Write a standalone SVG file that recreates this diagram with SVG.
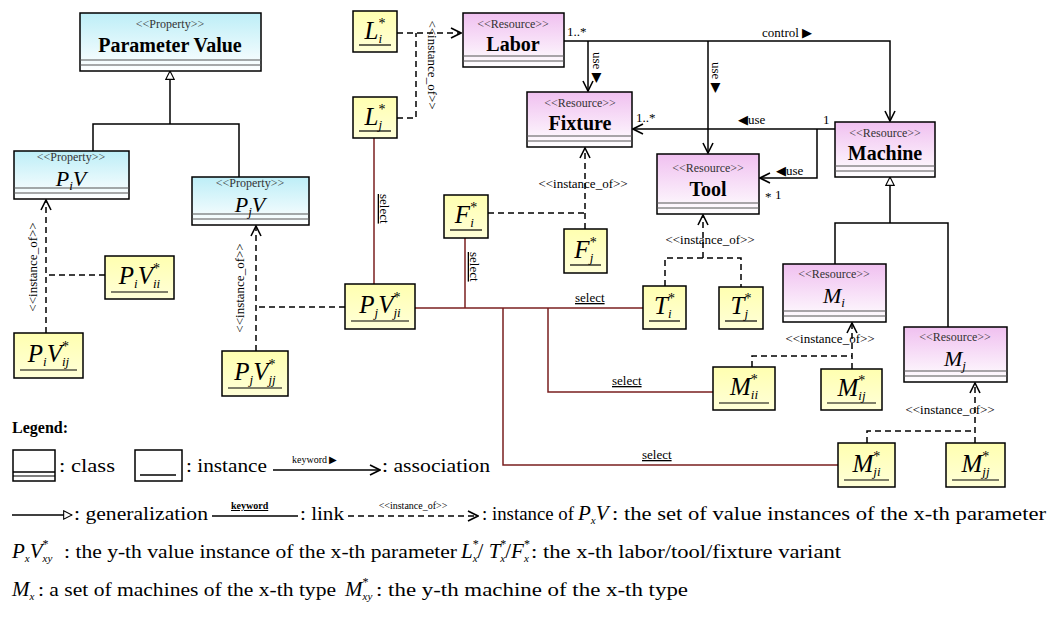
<svg xmlns="http://www.w3.org/2000/svg" width="1053" height="620" viewBox="0 0 1053 620" font-family="'Liberation Serif', 'Times New Roman', serif">
<defs>
<linearGradient id="gProp" x1="0" y1="0" x2="0" y2="1"><stop offset="0" stop-color="#bdeef7"/><stop offset="1" stop-color="#ffffff"/></linearGradient>
<linearGradient id="gRes" x1="0" y1="0" x2="0" y2="1"><stop offset="0" stop-color="#f0c0f0"/><stop offset="1" stop-color="#ffffff"/></linearGradient>
<linearGradient id="gInst" x1="0" y1="0" x2="0" y2="1"><stop offset="0" stop-color="#ffffb0"/><stop offset="1" stop-color="#ffffd8"/></linearGradient>
<marker id="open" viewBox="0 0 12 12" refX="11" refY="6" markerWidth="12" markerHeight="12" markerUnits="userSpaceOnUse" orient="auto"><path d="M1,1 L11,6 L1,11" fill="none" stroke="#000" stroke-width="1.6"/></marker>
<marker id="tri" viewBox="0 0 12 12" refX="11" refY="6" markerWidth="10" markerHeight="10" markerUnits="userSpaceOnUse" orient="auto"><path d="M1,1 L11,6 L1,11 Z" fill="#fff" stroke="#000" stroke-width="1.3"/></marker>
</defs>
<style>
.t,.st,.nm,.it,.itc,.lbl,.io,.lg,.lgi,.sm{font-family:'Liberation Serif','Times New Roman',serif;fill:#000}
.box{stroke:#000;stroke-width:1.5}
.prop{fill:url(#gProp)}
.res{fill:url(#gRes)}
.inst{fill:url(#gInst);stroke:#000;stroke-width:1.5}
.cl{stroke:#555;stroke-width:1.2}
.ul{stroke:#000;stroke-width:1.2}
.st{font-size:12px;fill:#333;text-anchor:middle}
.nm{font-size:20px;font-weight:bold;text-anchor:middle}
.it{font-size:25px;font-style:italic;text-anchor:middle}
.itc{font-size:22px;font-style:italic;text-anchor:middle}
.sub{font-size:13px}
.sup{font-size:14px;font-style:normal}
.lgi .sub{font-size:11px}
.lgi .sup{font-size:12px}
.assoc{fill:none;stroke:#000;stroke-width:1.5}
.dash{fill:none;stroke:#000;stroke-width:1.5;stroke-dasharray:6 4}
.sel{fill:none;stroke:#7a1f1f;stroke-width:1.5}
.lbl{font-size:13px}
.io{font-size:13px;text-anchor:middle}
.u{text-decoration:underline}
.lg{font-size:18px}
.lgi{font-size:21px;font-style:italic}
.sm{font-size:10px}
</style>

<g id="connectors">
<path class="assoc" d="M93,151 V124 H239 V177"/>
<path class="assoc" d="M170,124 V71" marker-end="url(#tri)"/>
<path class="assoc" d="M835,264 V223 H948 V327"/>
<path class="assoc" d="M890,223 V177" marker-end="url(#tri)"/>
<path class="assoc" d="M564,41 H890 V121" marker-end="url(#open)"/>
<path class="assoc" d="M588,41 V91" marker-end="url(#open)"/>
<path class="assoc" d="M708,41 V153" marker-end="url(#open)"/>
<path class="assoc" d="M835,129 H633" marker-end="url(#open)"/>
<path class="assoc" d="M817,129 V178 H760" marker-end="url(#open)"/>
<path class="dash" d="M397,33 H461" marker-end="url(#open)"/>
<path class="dash" d="M397,118 H416 V33"/>
<path class="dash" d="M46,333 V200" marker-end="url(#open)"/>
<path class="dash" d="M105,275 H46"/>
<path class="dash" d="M256,351 V226" marker-end="url(#open)"/>
<path class="dash" d="M345,307 H256"/>
<path class="dash" d="M585,229 V148" marker-end="url(#open)"/>
<path class="dash" d="M488,213 H585"/>
<path class="dash" d="M703,258 V215" marker-end="url(#open)"/>
<path class="dash" d="M665,286 V258 H741 V287"/>
<path class="dash" d="M852,369 V323" marker-end="url(#open)"/>
<path class="dash" d="M752,367 V356 H852"/>
<path class="dash" d="M975,443 V383" marker-end="url(#open)"/>
<path class="dash" d="M867,443 V431 H975"/>
<path class="sel" d="M374,138 V284"/>
<path class="sel" d="M415,308 H643"/>
<path class="sel" d="M465,238 V308"/>
<path class="sel" d="M503,308 V465 H838"/>
<path class="sel" d="M548,308 V392 H713"/>
<text class="lbl" x="762" y="37">control ▶</text>
<text class="lbl" x="567" y="36">1..*</text>
<text class="lbl" transform="translate(593,52) rotate(90)">use ▶</text>
<text class="lbl" transform="translate(712,62) rotate(90)">use ▶</text>
<text class="lbl" x="738" y="124">◀use</text>
<text class="lbl" x="823" y="124">1</text>
<text class="lbl" x="636" y="122">1..*</text>
<text class="lbl" x="776" y="175">◀use</text>
<text class="lbl" x="765" y="201">*</text>
<text class="lbl" x="775" y="199">1</text>
<text class="io" transform="translate(428,65) rotate(90)">&lt;&lt;instance_of&gt;&gt;</text>
<text class="io" transform="translate(37,267) rotate(-90)">&lt;&lt;instance_of&gt;&gt;</text>
<text class="io" transform="translate(244,288) rotate(-90)">&lt;&lt;instance_of&gt;&gt;</text>
<text class="io" x="583" y="188">&lt;&lt;instance_of&gt;&gt;</text>
<text class="io" x="710" y="244">&lt;&lt;instance_of&gt;&gt;</text>
<text class="io" x="830" y="343">&lt;&lt;instance_of&gt;&gt;</text>
<text class="io" x="950" y="414">&lt;&lt;instance_of&gt;&gt;</text>
<text class="lbl u" x="575" y="302">select</text>
<text class="lbl u" x="612" y="385">select</text>
<text class="lbl u" x="642" y="459">select</text>
<text class="lbl u" transform="translate(380,194) rotate(90)">select</text>
<text class="lbl u" transform="translate(470,252) rotate(90)">select</text>
</g>

<g id="parameter-value">
<rect class="box prop" x="80" y="13" width="181" height="58"/>
<line class="cl" x1="80" y1="60" x2="261" y2="60"/><line class="cl" x1="80" y1="65" x2="261" y2="65"/>
<text class="st" x="170" y="28">&lt;&lt;Property&gt;&gt;</text>
<text class="nm" x="170" y="52">Parameter Value</text>
</g>
<g id="PiV">
<rect class="box prop" x="14" y="151" width="115" height="48"/>
<line class="cl" x1="14" y1="188" x2="129" y2="188"/><line class="cl" x1="14" y1="193" x2="129" y2="193"/>
<text class="st" x="71" y="161">&lt;&lt;Property&gt;&gt;</text>
<text class="itc" x="71" y="186">P<tspan class="sub" dy="4">i</tspan><tspan dy="-4">V</tspan></text>
</g>
<g id="PjV">
<rect class="box prop" x="192" y="177" width="117" height="48"/>
<line class="cl" x1="192" y1="214" x2="309" y2="214"/><line class="cl" x1="192" y1="219" x2="309" y2="219"/>
<text class="st" x="250" y="187">&lt;&lt;Property&gt;&gt;</text>
<text class="itc" x="250" y="212">P<tspan class="sub" dy="4">j</tspan><tspan dy="-4">V</tspan></text>
</g>
<g id="labor">
<rect class="box res" x="463" y="13" width="101" height="54"/>
<line class="cl" x1="463" y1="56" x2="564" y2="56"/><line class="cl" x1="463" y1="61" x2="564" y2="61"/>
<text class="st" x="513" y="28">&lt;&lt;Resource&gt;&gt;</text>
<text class="nm" x="513" y="51">Labor</text>
</g>
<g id="fixture">
<rect class="box res" x="527" y="92" width="105" height="55"/>
<line class="cl" x1="527" y1="136" x2="632" y2="136"/><line class="cl" x1="527" y1="141" x2="632" y2="141"/>
<text class="st" x="580" y="107">&lt;&lt;Resource&gt;&gt;</text>
<text class="nm" x="580" y="130">Fixture</text>
</g>
<g id="tool">
<rect class="box res" x="657" y="154" width="102" height="60"/>
<line class="cl" x1="657" y1="203" x2="759" y2="203"/><line class="cl" x1="657" y1="208" x2="759" y2="208"/>
<text class="st" x="708" y="172">&lt;&lt;Resource&gt;&gt;</text>
<text class="nm" x="708" y="196">Tool</text>
</g>
<g id="machine">
<rect class="box res" x="835" y="122" width="100" height="55"/>
<line class="cl" x1="835" y1="166" x2="935" y2="166"/><line class="cl" x1="835" y1="171" x2="935" y2="171"/>
<text class="st" x="885" y="137">&lt;&lt;Resource&gt;&gt;</text>
<text class="nm" x="885" y="160">Machine</text>
</g>
<g id="Mi">
<rect class="box res" x="783" y="264" width="103" height="58"/>
<line class="cl" x1="783" y1="311" x2="886" y2="311"/><line class="cl" x1="783" y1="316" x2="886" y2="316"/>
<text class="st" x="834" y="278">&lt;&lt;Resource&gt;&gt;</text>
<text class="itc" x="834" y="303">M<tspan class="sub" dy="4">i</tspan></text>
</g>
<g id="Mj">
<rect class="box res" x="904" y="327" width="103" height="55"/>
<line class="cl" x1="904" y1="371" x2="1007" y2="371"/><line class="cl" x1="904" y1="376" x2="1007" y2="376"/>
<text class="st" x="955" y="341">&lt;&lt;Resource&gt;&gt;</text>
<text class="itc" x="955" y="366">M<tspan class="sub" dy="4">j</tspan></text>
</g>

<g id="Li">
<rect class="inst" x="353" y="11" width="44" height="41"/>
<line class="ul" x1="359" y1="45" x2="391" y2="45"/>
<text class="it" x="375" y="39">L<tspan class="sup" dy="-11">*</tspan><tspan class="sub" dx="-7" dy="15">i</tspan></text>
</g>
<g id="Lj">
<rect class="inst" x="353" y="97" width="44" height="41"/>
<line class="ul" x1="359" y1="131" x2="391" y2="131"/>
<text class="it" x="375" y="125">L<tspan class="sup" dy="-11">*</tspan><tspan class="sub" dx="-7" dy="15">j</tspan></text>
</g>
<g id="Fi">
<rect class="inst" x="444" y="195" width="44" height="43"/>
<line class="ul" x1="450" y1="230" x2="482" y2="230"/>
<text class="it" x="466" y="223">F<tspan class="sup" dy="-11">*</tspan><tspan class="sub" dx="-7" dy="15">i</tspan></text>
</g>
<g id="Fj">
<rect class="inst" x="564" y="229" width="43" height="44"/>
<line class="ul" x1="570" y1="265" x2="601" y2="265"/>
<text class="it" x="585.5" y="258">F<tspan class="sup" dy="-11">*</tspan><tspan class="sub" dx="-7" dy="15">j</tspan></text>
</g>
<g id="Ti">
<rect class="inst" x="643" y="286" width="43" height="43"/>
<line class="ul" x1="649" y1="321" x2="680" y2="321"/>
<text class="it" x="664.5" y="314">T<tspan class="sup" dy="-11">*</tspan><tspan class="sub" dx="-7" dy="15">i</tspan></text>
</g>
<g id="Tj">
<rect class="inst" x="719" y="287" width="44" height="42"/>
<line class="ul" x1="725" y1="321" x2="757" y2="321"/>
<text class="it" x="741" y="314">T<tspan class="sup" dy="-11">*</tspan><tspan class="sub" dx="-7" dy="15">j</tspan></text>
</g>
<g id="PiVii">
<rect class="inst" x="105" y="256" width="69" height="43"/>
<line class="ul" x1="111" y1="292" x2="168" y2="292"/>
<text class="it" x="139.5" y="284">P<tspan class="sub" dy="4">i</tspan><tspan dy="-4">V</tspan><tspan class="sup" dy="-11">*</tspan><tspan class="sub" dx="-7" dy="15">ii</tspan></text>
</g>
<g id="PiVij">
<rect class="inst" x="14" y="333" width="69" height="45"/>
<line class="ul" x1="20" y1="370" x2="77" y2="370"/>
<text class="it" x="48.5" y="362">P<tspan class="sub" dy="4">i</tspan><tspan dy="-4">V</tspan><tspan class="sup" dy="-11">*</tspan><tspan class="sub" dx="-7" dy="15">ij</tspan></text>
</g>
<g id="PjVjj">
<rect class="inst" x="222" y="351" width="66" height="45"/>
<line class="ul" x1="228" y1="388" x2="282" y2="388"/>
<text class="it" x="255" y="380">P<tspan class="sub" dy="4">j</tspan><tspan dy="-4">V</tspan><tspan class="sup" dy="-11">*</tspan><tspan class="sub" dx="-7" dy="15">jj</tspan></text>
</g>
<g id="PjVji">
<rect class="inst" x="345" y="284" width="70" height="45"/>
<line class="ul" x1="351" y1="321" x2="409" y2="321"/>
<text class="it" x="380" y="313">P<tspan class="sub" dy="4">j</tspan><tspan dy="-4">V</tspan><tspan class="sup" dy="-11">*</tspan><tspan class="sub" dx="-7" dy="15">ji</tspan></text>
</g>
<g id="Mii">
<rect class="inst" x="713" y="367" width="62" height="43"/>
<line class="ul" x1="719" y1="403" x2="769" y2="403"/>
<text class="it" x="744" y="395">M<tspan class="sup" dy="-11">*</tspan><tspan class="sub" dx="-7" dy="15">ii</tspan></text>
</g>
<g id="Mij">
<rect class="inst" x="821" y="369" width="61" height="41"/>
<line class="ul" x1="827" y1="403" x2="876" y2="403"/>
<text class="it" x="851.5" y="396">M<tspan class="sup" dy="-11">*</tspan><tspan class="sub" dx="-7" dy="15">ij</tspan></text>
</g>
<g id="Mji">
<rect class="inst" x="838" y="443" width="57" height="44"/>
<line class="ul" x1="844" y1="480" x2="889" y2="480"/>
<text class="it" x="866.5" y="472">M<tspan class="sup" dy="-11">*</tspan><tspan class="sub" dx="-7" dy="15">ji</tspan></text>
</g>
<g id="Mjj">
<rect class="inst" x="946" y="443" width="59" height="44"/>
<line class="ul" x1="952" y1="480" x2="999" y2="480"/>
<text class="it" x="975.5" y="472">M<tspan class="sup" dy="-11">*</tspan><tspan class="sub" dx="-7" dy="15">jj</tspan></text>
</g>

<g id="legend">
<text class="t" x="12" y="433" style="font-size:16px;font-weight:bold">Legend:</text>
<rect x="13" y="450" width="42" height="31" fill="#fff" stroke="#000" stroke-width="1.5"/>
<line x1="13" y1="472" x2="55" y2="472" stroke="#000" stroke-width="1.5"/>
<line x1="13" y1="476" x2="55" y2="476" stroke="#000" stroke-width="1.2"/>
<text class="lg" x="59" y="472" textLength="56" lengthAdjust="spacingAndGlyphs">: class</text>
<rect x="135" y="450" width="47" height="31" fill="#fff" stroke="#000" stroke-width="1.5"/>
<line x1="140" y1="475" x2="176" y2="475" stroke="#000" stroke-width="1.5"/>
<text class="lg" x="186" y="472" textLength="81" lengthAdjust="spacingAndGlyphs">: instance</text>
<path class="assoc" d="M273,470 H380" marker-end="url(#open)"/>
<text class="sm" x="292" y="463">keyword ▶</text>
<text class="lg" x="382" y="472" textLength="108" lengthAdjust="spacingAndGlyphs">: association</text>

<path class="assoc" d="M12,515 H72" marker-end="url(#tri)"/>
<text class="lg" x="74" y="520" textLength="134" lengthAdjust="spacingAndGlyphs">: generalization</text>
<path class="assoc" d="M212,516 H298"/>
<text class="sm u" x="231" y="509" style="font-weight:bold">keyword</text>
<text class="lg" x="300" y="520" textLength="44" lengthAdjust="spacingAndGlyphs">: link</text>
<path class="dash" d="M348,516 H478" marker-end="url(#open)"/>
<text class="sm" x="413" y="509" text-anchor="middle">&lt;&lt;instance_of&gt;&gt;</text>
<text class="lg" x="482" y="520" textLength="92" lengthAdjust="spacingAndGlyphs">: instance of</text>
<text class="lgi" x="578" y="520">P<tspan class="sub" dy="4">x</tspan><tspan dy="-4">V</tspan></text>
<text class="lg" x="612" y="520" textLength="434" lengthAdjust="spacingAndGlyphs">: the set of value instances of the x-th parameter</text>

<text class="lgi" x="12" y="558">P<tspan class="sub" dy="4">x</tspan><tspan dy="-4">V</tspan><tspan class="sup" dy="-10">*</tspan><tspan class="sub" dx="-6" dy="14">xy</tspan></text>
<text class="lg" x="64" y="558" textLength="393" lengthAdjust="spacingAndGlyphs">: the y-th value instance of the x-th parameter</text>
<text class="lgi" x="461" y="558">L<tspan class="sup" dy="-10">*</tspan><tspan class="sub" dx="-6" dy="14">x</tspan><tspan dy="-4" style="font-style:normal">/ </tspan>T<tspan class="sup" dy="-10">*</tspan><tspan class="sub" dx="-6" dy="14">x</tspan><tspan dy="-4" style="font-style:normal">/</tspan>F<tspan class="sup" dy="-10">*</tspan><tspan class="sub" dx="-6" dy="14">x</tspan></text>
<text class="lg" x="531" y="558" textLength="310" lengthAdjust="spacingAndGlyphs">: the x-th labor/tool/fixture variant</text>

<text class="lgi" x="12" y="596">M<tspan class="sub" dy="4">x</tspan></text>
<text class="lg" x="38" y="596" textLength="298" lengthAdjust="spacingAndGlyphs">: a set of machines of the x-th type</text>
<text class="lgi" x="345" y="596">M<tspan class="sup" dy="-10">*</tspan><tspan class="sub" dx="-6" dy="14">xy</tspan></text>
<text class="lg" x="376" y="596" textLength="312" lengthAdjust="spacingAndGlyphs">: the y-th machine of the x-th type</text>
</g>
</svg>
